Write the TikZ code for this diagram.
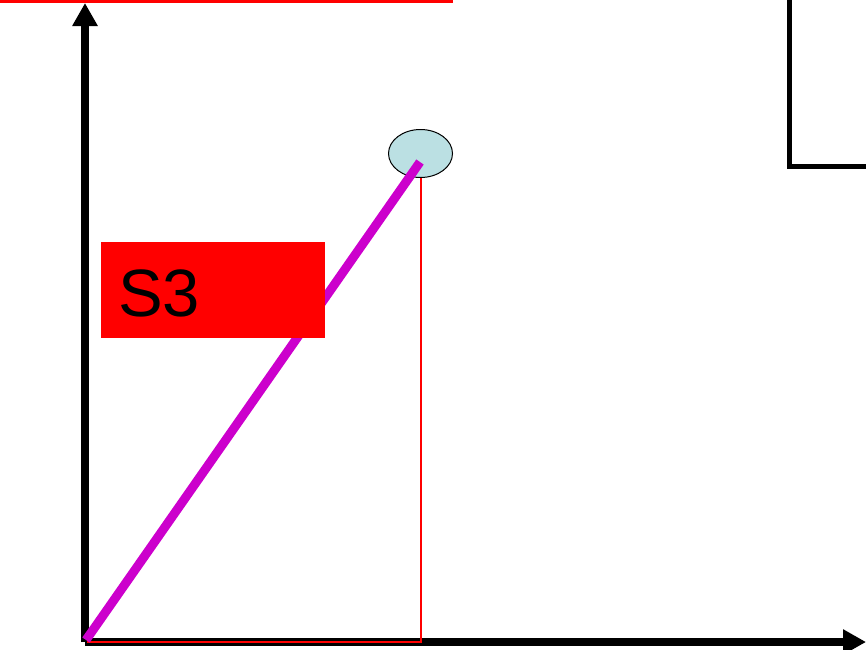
\documentclass[tikz,border=0pt]{standalone}
\usepackage{fontspec}
\setmainfont{Liberation Sans}
\usetikzlibrary{arrows.meta,shapes.geometric}

\definecolor{ballblue}{HTML}{BBE0E3}
\definecolor{rodmagenta}{HTML}{CC00CC}

\begin{document}
\begin{tikzpicture}[x=1pt,y=-1pt,>={Triangle[width=24pt,length=23pt]}]
  \useasboundingbox (0,0) rectangle (866,649);
  % axes
  \coordinate (o) at (85,642);
  \coordinate (ytop) at (85,3);
  \coordinate (xend) at (866,642);
  \draw[->,line width=8pt] (o) -- (ytop);
  \draw[->,line width=8pt] (o) -- (xend);
  % projection lines
  \coordinate (p0) at (87,642);
  \coordinate (pc) at (421,642);
  \coordinate (ptop) at (421,178);
  \draw[red,line width=2pt] (p0) -- (pc) -- (ptop);
  % ball and rod
  \node[ellipse,draw,fill=ballblue,line width=1pt,inner sep=0pt,
        minimum width=64pt,minimum height=48pt] (ball) at (420.5,153.5) {};
  \coordinate (rodbot) at (86,640);
  \coordinate (rodtop) at (420,162);
  \draw[rodmagenta,line width=9pt] (rodbot) -- (rodtop);
  % label box
  \node[fill=red,minimum width=224pt,minimum height=96pt,inner sep=0pt,
        anchor=north west] (s3box) at (101,242) {};
  \node[anchor=base west,inner sep=0pt,font=\fontsize{67}{70}\selectfont]
    (s3) at (118,316) {S3};
  % top red line
  \coordinate (r0) at (0,1.5);
  \coordinate (r1) at (453,1.5);
  \draw[red,line width=3pt] (r0) -- (r1);
  % corner box
  \coordinate (b0) at (789.5,0);
  \coordinate (b1) at (789.5,166);
  \coordinate (b2) at (866,166);
  \draw[line width=5pt] (b0) -- (b1) -- (b2);
\end{tikzpicture}
\end{document}
